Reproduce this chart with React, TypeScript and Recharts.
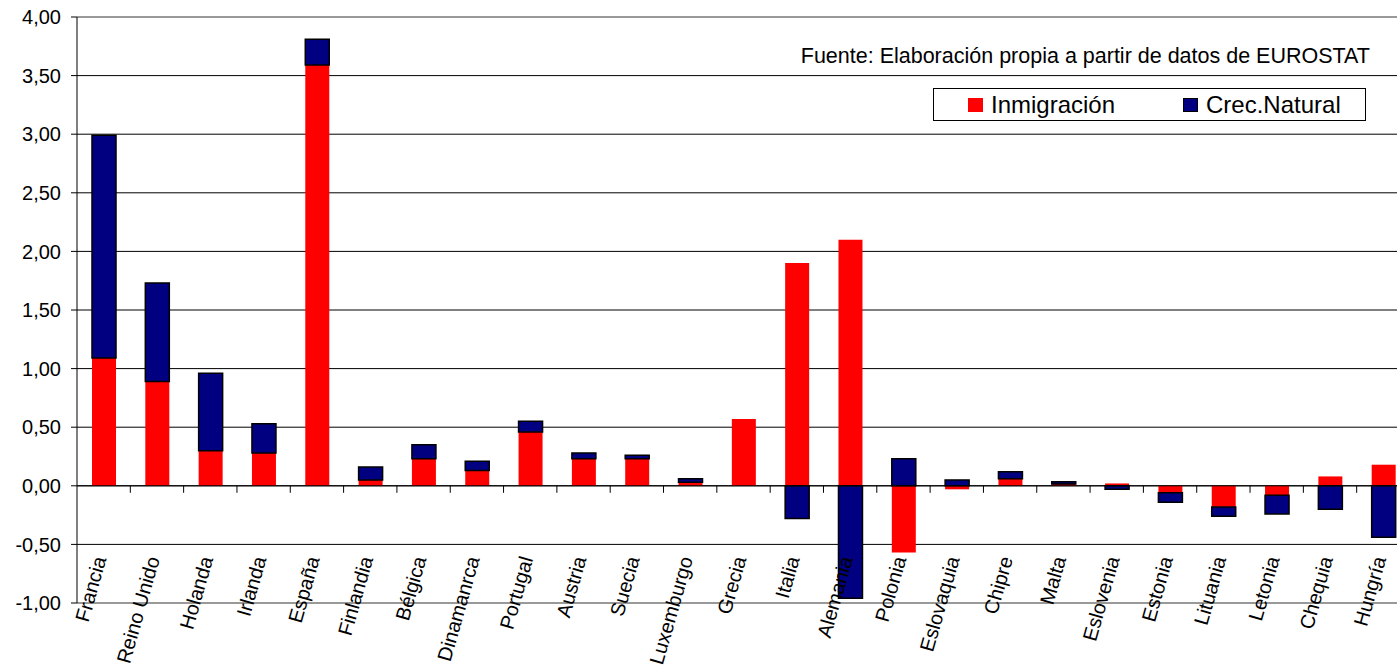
import React from "react";
import { BarChart, Bar, XAxis, YAxis, CartesianGrid, ReferenceLine, Legend } from "recharts";

const categories = [
  "Francia", "Reino Unido", "Holanda", "Irlanda", "España", "Finlandia", "Bélgica",
  "Dinamanrca", "Portugal", "Austria", "Suecia", "Luxemburgo", "Grecia", "Italia",
  "Alemania", "Polonia", "Eslovaquia", "Chipre", "Malta", "Eslovenia", "Estonia",
  "Lituania", "Letonia", "Chequia", "Hungría",
];
const inmigracion = [
  1.09, 0.89, 0.30, 0.28, 3.59, 0.05, 0.23, 0.13, 0.46, 0.23, 0.23, 0.03, 0.57,
  1.90, 2.10, -0.57, -0.03, 0.06, 0.015, 0.02, -0.06, -0.18, -0.08, 0.08, 0.18,
];
const crecNatural = [
  1.90, 0.84, 0.66, 0.25, 0.22, 0.11, 0.12, 0.08, 0.09, 0.05, 0.03, 0.03, 0.0,
  -0.28, -0.96, 0.23, 0.05, 0.06, 0.02, -0.03, -0.08, -0.08, -0.16, -0.20, -0.44,
];
const seriesNames = ["Inmigración", "Crec.Natural"];
const yTicks = [4, 3.5, 3, 2.5, 2, 1.5, 1, 0.5, 0, -0.5, -1];
const gridValues = [3.5, 3, 2.5, 2, 1.5, 1, 0.5, 0, -0.5];
const sourceText = "Fuente: Elaboración propia a partir de datos de EUROSTAT";

const data = categories.map((name, i) => ({
  name,
  inm: inmigracion[i],
  crec: crecNatural[i],
}));

const FONT = "'Liberation Sans', Arial, sans-serif";
const CHART_W = 1410;
const CHART_H = 670;
const Y_AXIS_W = 77;
const TOP = 17;
const X_AXIS_H = 67;
const PLOT_H = CHART_H - TOP - X_AXIS_H;
const PLOT_W = CHART_W - Y_AXIS_W;
const Y_MAX = 4;
const Y_MIN = -1;
const ZERO_Y = TOP + (PLOT_H * (Y_MAX - 0)) / (Y_MAX - Y_MIN);
const BAND = PLOT_W / categories.length;

const fmt = (v: number) => v.toFixed(2).replace(".", ",");

const CategoryTick = (props: any) => {
  const { x, payload, index } = props;
  return (
    <g>
      {index > 0 && (
        <line x1={x - BAND / 2} x2={x - BAND / 2} y1={ZERO_Y} y2={ZERO_Y + 7} stroke="#000" strokeWidth={1} />
      )}
      <text
        transform={`translate(${x + 3},${ZERO_Y + 73}) rotate(-74)`}
        textAnchor="end"
        fontSize={20}
        fontFamily={FONT}
        fill="#000"
      >
        {payload.value}
      </text>
    </g>
  );
};

const LegendBox = (props: any) => {
  const payload = [...(props.payload || [])].sort(
    (a: any, b: any) => seriesNames.indexOf(a.value) - seriesNames.indexOf(b.value)
  );
  const lefts = [34, 249];
  return (
    <div
      style={{
        position: "relative",
        width: 433,
        height: 33,
        border: "1px solid #000",
        boxSizing: "border-box",
        background: "#fff",
        fontFamily: FONT,
      }}
    >
      {payload.map((p: any, i: number) => (
        <div
          key={p.value}
          style={{
            position: "absolute",
            left: lefts[i],
            top: 0,
            height: 31,
            display: "flex",
            alignItems: "center",
          }}
        >
          <span
            style={{
              display: "inline-block",
              width: 15,
              height: 14,
              background: p.color,
              border: p.value === "Crec.Natural" ? "1px solid #000" : "none",
              boxSizing: "border-box",
              marginRight: 8,
            }}
          />
          <span style={{ fontSize: 24, color: "#000", lineHeight: "31px" }}>{p.value}</span>
        </div>
      ))}
    </div>
  );
};

export default function App() {
  return (
    <div
      style={{
        position: "absolute",
        left: 0,
        top: 0,
        width: 1397,
        height: 670,
        overflow: "hidden",
        background: "#fff",
      }}
    >
      <BarChart
        width={CHART_W}
        height={CHART_H}
        data={data}
        stackOffset="sign"
        margin={{ top: TOP, right: 0, bottom: 0, left: 0 }}
        barSize={24}
      >
        <CartesianGrid horizontal={true} vertical={false} stroke="#000" strokeWidth={1} horizontalValues={gridValues} />
        <XAxis
          dataKey="name"
          height={X_AXIS_H}
          axisLine={false}
          tickLine={false}
          interval={0}
          tick={<CategoryTick />}
        />
        <YAxis
          width={Y_AXIS_W}
          domain={[Y_MIN, Y_MAX]}
          ticks={yTicks}
          allowDataOverflow={true}
          tickFormatter={fmt}
          axisLine={{ stroke: "#000", strokeWidth: 1 }}
          tickLine={{ stroke: "#000", strokeWidth: 1 }}
          tickSize={6}
          tickMargin={10}
          tick={{ fontSize: 20, fontFamily: FONT, fill: "#000" }}
        />
        <ReferenceLine y={Y_MAX} stroke="#999" strokeWidth={2} />
        <ReferenceLine y={Y_MIN} stroke="#999" strokeWidth={2} />
        <Legend
          layout="horizontal"
          verticalAlign="middle"
          align="center"
          content={<LegendBox />}
          wrapperStyle={{ position: "absolute", top: 88, left: 933, width: 433, height: 33 }}
        />
        <Bar dataKey="inm" name="Inmigración" stackId="a" fill="#FF0000" isAnimationActive={false} />
        <Bar
          dataKey="crec"
          name="Crec.Natural"
          stackId="a"
          fill="#000080"
          stroke="#000"
          strokeWidth={1.5}
          isAnimationActive={false}
        />
        <ReferenceLine y={0} stroke="#000" strokeWidth={1} />
        <text x={1370} y={63} textAnchor="end" fontSize={21.5} fontFamily={FONT} fill="#000">
          {sourceText}
        </text>
      </BarChart>
    </div>
  );
}
